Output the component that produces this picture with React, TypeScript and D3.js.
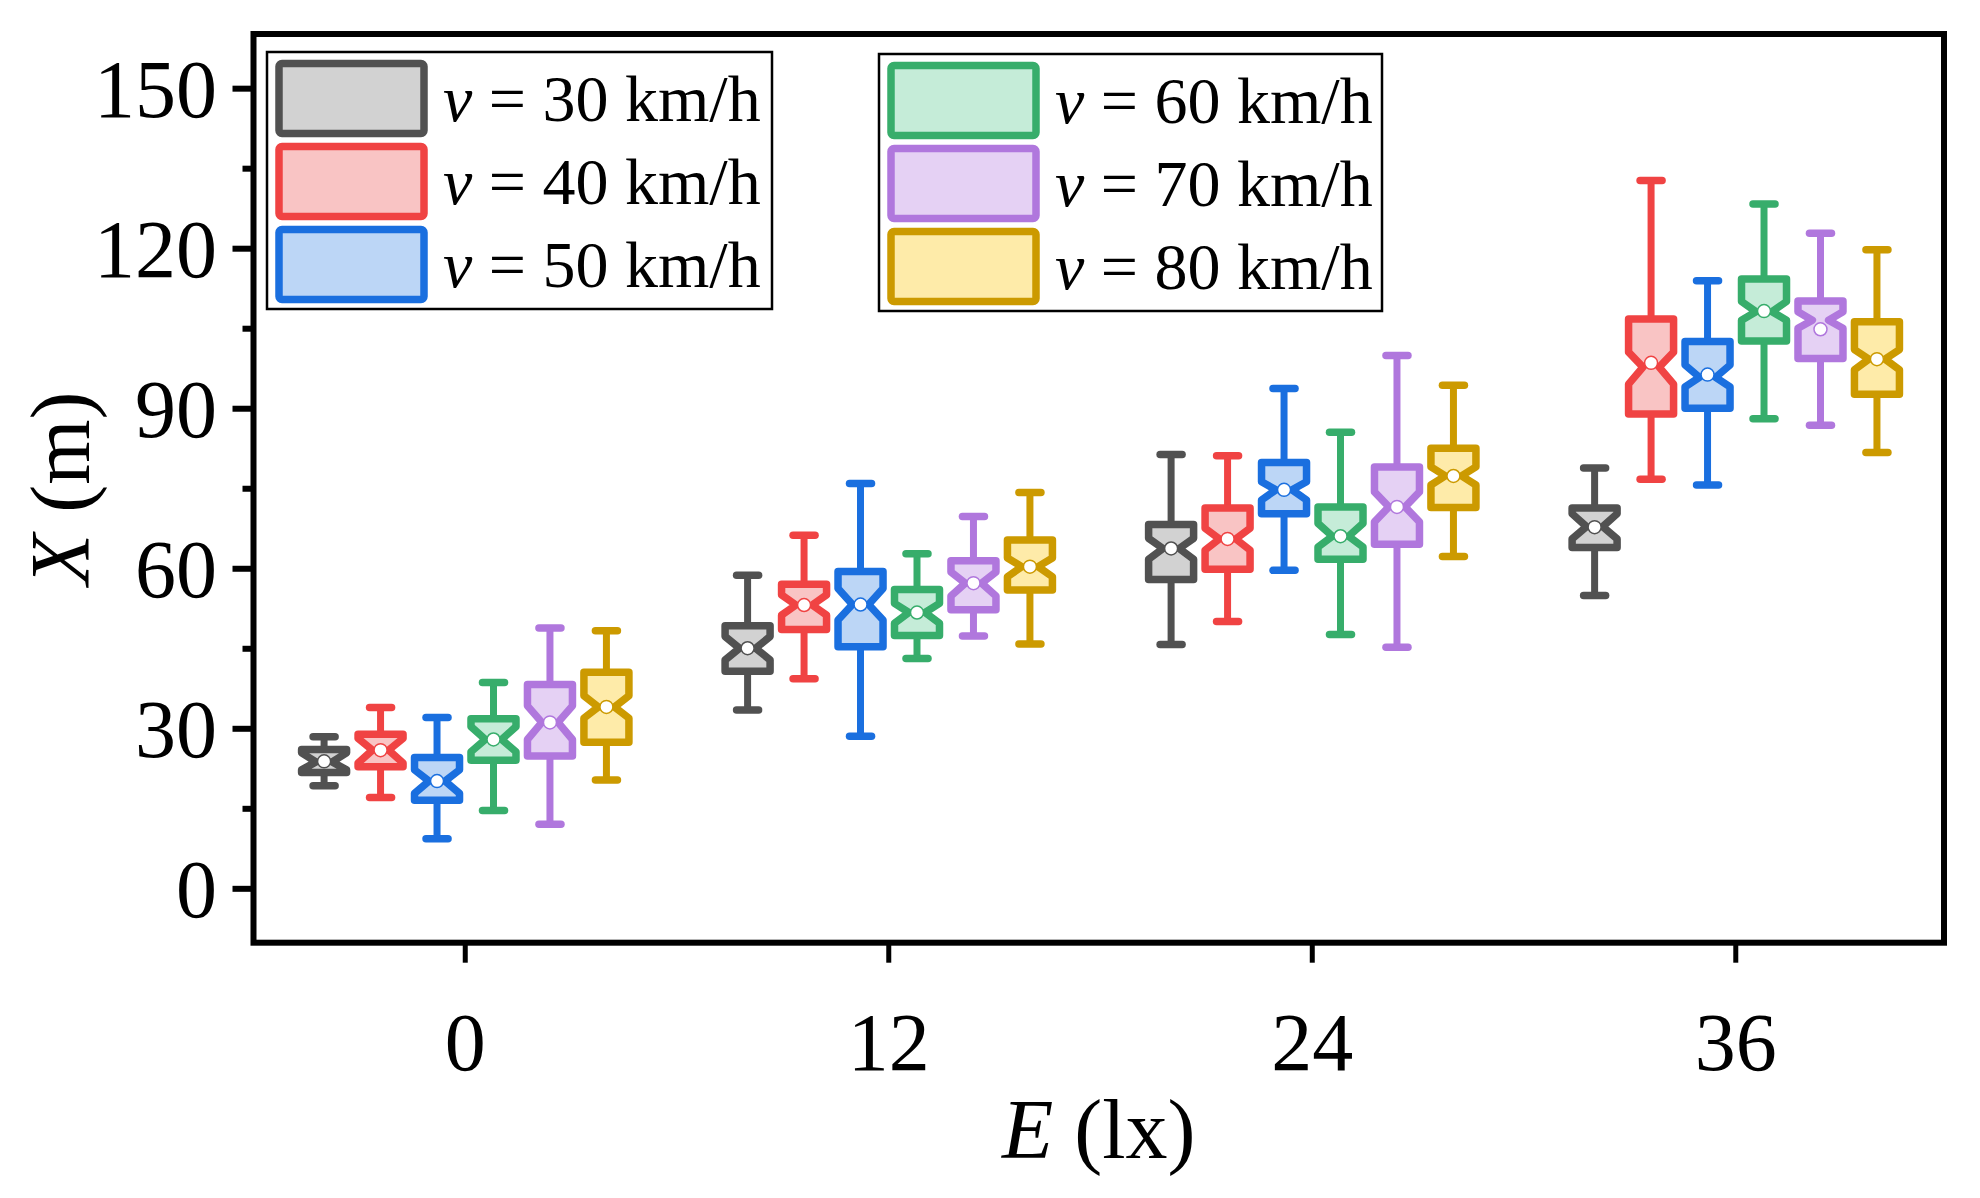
import * as d3 from 'd3'

const illuminance = [0, 12, 24, 36]
const speeds = [30, 40, 50, 60, 70, 80]

// rows: speed series, columns: illuminance groups
const whiskerLow = [
  [19.3, 33.5, 45.8, 55.0],
  [17.1, 39.4, 50.1, 76.8],
  [9.4, 28.6, 59.7, 75.7],
  [14.7, 43.2, 47.7, 88.1],
  [12.1, 47.4, 45.3, 86.9],
  [20.4, 45.9, 62.3, 81.8],
]
const q1 = [
  [21.8, 40.8, 58.0, 64.0],
  [22.9, 48.6, 59.9, 89.0],
  [16.6, 45.4, 70.3, 90.1],
  [24.1, 47.5, 61.8, 102.7],
  [24.9, 52.3, 64.6, 99.4],
  [27.5, 56.0, 71.5, 92.7],
]
const median = [
  [23.8, 45.1, 63.8, 67.9],
  [26.0, 53.2, 65.6, 97.8],
  [20.2, 53.3, 74.8, 95.9],
  [28.0, 51.8, 66.1, 108.2],
  [31.2, 57.3, 71.6, 106.6],
  [34.1, 60.4, 77.4, 99.3],
]
const q3 = [
  [26.1, 49.3, 68.3, 71.4],
  [29.0, 57.1, 71.4, 106.8],
  [24.6, 59.5, 79.9, 102.6],
  [31.9, 56.1, 71.6, 114.3],
  [38.3, 61.5, 79.1, 110.2],
  [40.6, 65.4, 82.6, 106.3],
]
const whiskerHigh = [
  [28.5, 58.8, 81.4, 78.9],
  [34.0, 66.3, 81.2, 132.8],
  [32.1, 76.0, 93.8, 114.0],
  [38.7, 62.8, 85.6, 128.4],
  [48.9, 69.8, 100.0, 122.9],
  [48.4, 74.3, 94.4, 119.8],
]
const meanValue = [
  [23.9, 45.1, 63.8, 67.8],
  [26.0, 53.2, 65.6, 98.6],
  [20.2, 53.3, 74.8, 96.4],
  [28.0, 51.8, 66.1, 108.3],
  [31.2, 57.3, 71.6, 104.9],
  [34.1, 60.4, 77.4, 99.3],
]
const notchLow = [
  [22.3, 42.9, 61.8, 65.6],
  [23.6, 51.3, 63.5, 94.6],
  [17.9, 50.4, 72.9, 94.1],
  [25.7, 49.8, 64.1, 106.6],
  [28.0, 54.9, 68.8, 105.1],
  [32.0, 58.5, 75.7, 97.3],
]
const notchHigh = [
  [25.5, 47.3, 65.7, 70.3],
  [28.2, 55.1, 67.6, 100.6],
  [22.3, 56.3, 76.3, 98.2],
  [30.4, 53.5, 68.5, 110.1],
  [34.3, 59.4, 74.4, 108.2],
  [36.2, 62.0, 79.1, 101.1],
]

const strokeColors = ['#515151', '#f04343', '#1a6fdf', '#37ad6b', '#b077dd', '#cc9a00']
const fillColors = ['#d2d2d2', '#f9c4c4', '#bcd6f6', '#c5ecd8', '#e5d1f4', '#feeba9']

const yTicks = [0, 30, 60, 90, 120, 150]
const yMinorTicks = [15, 45, 75, 105, 135]

const W = 1980
const H = 1198
const FONT = '"Liberation Serif", "Times New Roman", serif'

const x = d3.scaleLinear().domain([-6, 41.9]).range([253.5, 1944])
const y = d3.scaleLinear().domain([-10.1, 160.25]).range([942.7, 34])

const SPACING = 1.6 // x units between boxes in a group
const BOX_W = 45 // px
const STROKE = 7.5

function boxPath(cx: number, s: number, g: number) {
  const l = cx - BOX_W / 2
  const r = cx + BOX_W / 2
  const ind = BOX_W * 0.32
  const pts: [number, number][] = [
    [l, y(q3[s][g])],
    [l, y(notchHigh[s][g])],
    [l + ind, y(median[s][g])],
    [l, y(notchLow[s][g])],
    [l, y(q1[s][g])],
    [r, y(q1[s][g])],
    [r, y(notchLow[s][g])],
    [r - ind, y(median[s][g])],
    [r, y(notchHigh[s][g])],
    [r, y(q3[s][g])],
  ]
  return d3.line()(pts) + 'Z'
}

function Boxes() {
  return (
    <g>
      {speeds.map((sp, s) =>
        illuminance.map((e, g) => {
          const cx = x(e + (s - 2.5) * SPACING)
          const col = strokeColors[s]
          return (
            <g key={`${sp}-${e}`}>
              <line x1={cx} x2={cx} y1={y(whiskerHigh[s][g])} y2={y(q3[s][g])} stroke={col} strokeWidth={7} />
              <line x1={cx} x2={cx} y1={y(q1[s][g])} y2={y(whiskerLow[s][g])} stroke={col} strokeWidth={7} />
              {[whiskerHigh[s][g], whiskerLow[s][g]].map((v, k) => (
                <line
                  key={k}
                  x1={cx - 11}
                  x2={cx + 11}
                  y1={y(v)}
                  y2={y(v)}
                  stroke={col}
                  strokeWidth={7.5}
                  strokeLinecap="round"
                />
              ))}
              <path d={boxPath(cx, s, g)} fill={fillColors[s]} stroke={col} strokeWidth={STROKE} strokeLinejoin="round" />
              <circle cx={cx} cy={y(meanValue[s][g])} r={6.5} fill="#fff" stroke={col} strokeWidth={1.5} />
            </g>
          )
        }),
      )}
    </g>
  )
}

function Legend({ items, left, top, boxW }: { items: number[]; left: number; top: number; boxW: number }) {
  const pitch = 83
  return (
    <g>
      <rect x={left} y={top} width={boxW} height={257} fill="#fff" stroke="#000" strokeWidth={2.5} />
      {items.map((s, i) => {
        const sy = top + 11.5 + i * pitch
        return (
          <g key={s}>
            <rect
              x={left + 12}
              y={sy}
              width={145}
              height={70}
              rx={3}
              fill={fillColors[s]}
              stroke={strokeColors[s]}
              strokeWidth={7.5}
            />
            <text x={left + 176} y={sy + 57} fontFamily={FONT} fontSize={66} fill="#000">
              <tspan fontStyle="italic">v</tspan>
              {` = ${speeds[s]} km/h`}
            </text>
          </g>
        )
      })}
    </g>
  )
}

export default function App() {
  const [x0, x1] = x.range()
  const [yb, yt] = y.range()
  return (
    <div style={{ position: 'absolute', left: 0, top: 0, background: '#fff' }}>
      <svg width={W} height={H} viewBox={`0 0 ${W} ${H}`} style={{ display: 'block' }}>
        <rect width={W} height={H} fill="#fff" />
        <Boxes />
        <Legend items={[0, 1, 2]} left={267} top={52} boxW={505} />
        <Legend items={[3, 4, 5]} left={879} top={54} boxW={503} />

        {/* frame */}
        <rect x={x0} y={yt} width={x1 - x0} height={yb - yt} fill="none" stroke="#000" strokeWidth={6} />

        {/* y axis */}
        {yTicks.map((t) => (
          <g key={t}>
            <line x1={x0 - 21} x2={x0} y1={y(t)} y2={y(t)} stroke="#000" strokeWidth={6} />
            <text
              x={217}
              y={y(t)}
              dy="0.34em"
              textAnchor="end"
              fontFamily={FONT}
              fontSize={82}
              fill="#000"
            >
              {t}
            </text>
          </g>
        ))}
        {yMinorTicks.map((t) => (
          <line key={t} x1={x0 - 11} x2={x0} y1={y(t)} y2={y(t)} stroke="#000" strokeWidth={6} />
        ))}
        <text
          transform={`translate(89,${(yb + yt) / 2}) rotate(-90)`}
          textAnchor="middle"
          fontFamily={FONT}
          fontSize={84}
          fill="#000"
        >
          <tspan fontStyle="italic">X</tspan> (m)
        </text>

        {/* x axis */}
        {illuminance.map((t) => (
          <g key={t}>
            <line x1={x(t)} x2={x(t)} y1={yb} y2={yb + 20} stroke="#000" strokeWidth={5} />
            <text x={x(t)} y={1070} textAnchor="middle" fontFamily={FONT} fontSize={82} fill="#000">
              {t}
            </text>
          </g>
        ))}
        <text x={(x0 + x1) / 2} y={1158} textAnchor="middle" fontFamily={FONT} fontSize={84} fill="#000">
          <tspan fontStyle="italic">E</tspan> (lx)
        </text>
      </svg>
    </div>
  )
}
